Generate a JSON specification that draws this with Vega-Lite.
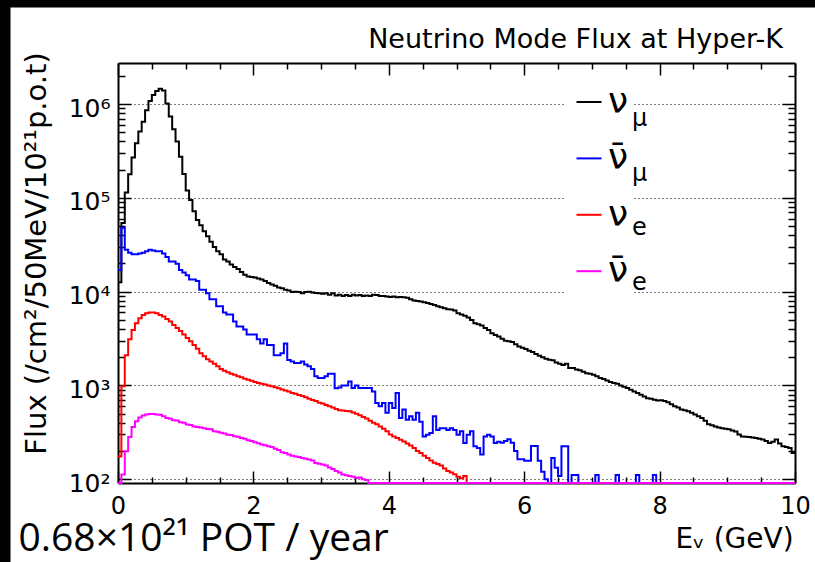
{
"$schema": "https://vega.github.io/schema/vega-lite/v6.json",
"width": 677, "height": 420,
"autosize": {"type": "none"},
"padding": {"left": 118, "top": 63, "right": 20, "bottom": 79},
"background": "white",
"config": {
  "view": {"stroke": null},
  "axis": {"labelFont": "DejaVu Sans", "titleFont": "DejaVu Sans", "labelColor": "black", "titleColor": "black", "tickColor": "black", "domainColor": "black", "titleFontWeight": "normal", "tickWidth": 1.5, "domainWidth": 2},
  "legend": {"labelFont": "DejaVu Sans", "labelColor": "black"}
},
"data": {"values": [
{"E":0,"a":12600,"b":17000,"c":175,"d":0},
{"E":0.05,"a":54000,"b":48000,"c":980,"d":112},
{"E":0.1,"a":114000,"b":28000,"c":2100,"d":199},
{"E":0.15,"a":179000,"b":26000,"c":3100,"d":282},
{"E":0.2,"a":270000,"b":25000,"c":3900,"d":360},
{"E":0.25,"a":384000,"b":25000,"c":4600,"d":415},
{"E":0.3,"a":510000,"b":25500,"c":5200,"d":455},
{"E":0.35,"a":650000,"b":26000,"c":5650,"d":478},
{"E":0.4,"a":860000,"b":27000,"c":5900,"d":490},
{"E":0.45,"a":1080000,"b":28000,"c":6000,"d":497},
{"E":0.5,"a":1250000,"b":27500,"c":6000,"d":497},
{"E":0.55,"a":1380000,"b":27000,"c":5900,"d":490},
{"E":0.6,"a":1460000,"b":27000,"c":5650,"d":488},
{"E":0.65,"a":1400000,"b":25500,"c":5450,"d":470},
{"E":0.7,"a":1020000,"b":23500,"c":5100,"d":450},
{"E":0.75,"a":740000,"b":21000,"c":4800,"d":440},
{"E":0.8,"a":540000,"b":21000,"c":4400,"d":425},
{"E":0.85,"a":400000,"b":19800,"c":4100,"d":422},
{"E":0.9,"a":275000,"b":17000,"c":3800,"d":405},
{"E":0.95,"a":180000,"b":16000,"c":3500,"d":400},
{"E":1.0,"a":120000,"b":15000,"c":3200,"d":382},
{"E":1.05,"a":95000,"b":13500,"c":2950,"d":378},
{"E":1.1,"a":72000,"b":13500,"c":2700,"d":365},
{"E":1.15,"a":58000,"b":13000,"c":2460,"d":360},
{"E":1.2,"a":51000,"b":10500,"c":2200,"d":355},
{"E":1.25,"a":44000,"b":10500,"c":2050,"d":350},
{"E":1.3,"a":39000,"b":9600,"c":1900,"d":343},
{"E":1.35,"a":34000,"b":8300,"c":1800,"d":340},
{"E":1.4,"a":30000,"b":8300,"c":1700,"d":325},
{"E":1.45,"a":27000,"b":7000,"c":1600,"d":320},
{"E":1.5,"a":25000,"b":7000,"c":1500,"d":312},
{"E":1.55,"a":22000,"b":6000,"c":1430,"d":307},
{"E":1.6,"a":21000,"b":5700,"c":1380,"d":298},
{"E":1.65,"a":19500,"b":5700,"c":1330,"d":295},
{"E":1.7,"a":18300,"b":4800,"c":1300,"d":287},
{"E":1.75,"a":17400,"b":4250,"c":1250,"d":283},
{"E":1.8,"a":16200,"b":4250,"c":1220,"d":275},
{"E":1.85,"a":15200,"b":3950,"c":1180,"d":270},
{"E":1.9,"a":14500,"b":3500,"c":1150,"d":260},
{"E":1.95,"a":14300,"b":3500,"c":1120,"d":256},
{"E":2.0,"a":14200,"b":3500,"c":1090,"d":248},
{"E":2.05,"a":13800,"b":3100,"c":1060,"d":242},
{"E":2.1,"a":13500,"b":2800,"c":1040,"d":234},
{"E":2.15,"a":13000,"b":3100,"c":1020,"d":230},
{"E":2.2,"a":12400,"b":2700,"c":1000,"d":225},
{"E":2.25,"a":11900,"b":2700,"c":980,"d":220},
{"E":2.3,"a":11600,"b":2100,"c":955,"d":211},
{"E":2.35,"a":11100,"b":2100,"c":935,"d":205},
{"E":2.4,"a":10900,"b":2200,"c":905,"d":194},
{"E":2.45,"a":10500,"b":2800,"c":880,"d":190},
{"E":2.5,"a":10300,"b":1870,"c":860,"d":183},
{"E":2.55,"a":9900,"b":1800,"c":830,"d":178},
{"E":2.6,"a":10000,"b":1730,"c":815,"d":175},
{"E":2.65,"a":9900,"b":1730,"c":790,"d":172},
{"E":2.7,"a":9600,"b":1800,"c":770,"d":168},
{"E":2.75,"a":9900,"b":1670,"c":750,"d":165},
{"E":2.8,"a":10000,"b":1600,"c":720,"d":162},
{"E":2.85,"a":9800,"b":1500,"c":700,"d":158},
{"E":2.9,"a":9700,"b":1250,"c":680,"d":149},
{"E":2.95,"a":9600,"b":1200,"c":655,"d":146},
{"E":3.0,"a":9500,"b":1200,"c":640,"d":143},
{"E":3.05,"a":9600,"b":1250,"c":620,"d":140},
{"E":3.1,"a":9300,"b":1330,"c":600,"d":133},
{"E":3.15,"a":9600,"b":1330,"c":580,"d":128},
{"E":3.2,"a":9100,"b":930,"c":560,"d":122},
{"E":3.25,"a":9300,"b":950,"c":545,"d":118},
{"E":3.3,"a":9000,"b":1000,"c":540,"d":112},
{"E":3.35,"a":9200,"b":1000,"c":535,"d":110},
{"E":3.4,"a":9000,"b":1100,"c":530,"d":108},
{"E":3.45,"a":9300,"b":940,"c":515,"d":106},
{"E":3.5,"a":9100,"b":1000,"c":500,"d":103},
{"E":3.55,"a":9200,"b":940,"c":480,"d":104},
{"E":3.6,"a":9000,"b":940,"c":460,"d":100},
{"E":3.65,"a":9100,"b":940,"c":445,"d":98},
{"E":3.7,"a":9000,"b":940,"c":420,"d":0},
{"E":3.75,"a":9300,"b":860,"c":400,"d":0},
{"E":3.8,"a":9200,"b":650,"c":385,"d":0},
{"E":3.85,"a":9000,"b":600,"c":365,"d":0},
{"E":3.9,"a":9000,"b":650,"c":345,"d":0},
{"E":3.95,"a":8900,"b":510,"c":325,"d":0},
{"E":4.0,"a":8800,"b":650,"c":300,"d":0},
{"E":4.05,"a":8900,"b":575,"c":286,"d":0},
{"E":4.1,"a":8700,"b":830,"c":275,"d":0},
{"E":4.15,"a":8800,"b":450,"c":264,"d":0},
{"E":4.2,"a":8700,"b":555,"c":252,"d":0},
{"E":4.25,"a":8600,"b":430,"c":240,"d":0},
{"E":4.3,"a":8300,"b":470,"c":228,"d":0},
{"E":4.35,"a":8050,"b":430,"c":215,"d":0},
{"E":4.4,"a":7950,"b":510,"c":200,"d":0},
{"E":4.45,"a":7850,"b":410,"c":190,"d":0},
{"E":4.5,"a":7700,"b":286,"c":178,"d":0},
{"E":4.55,"a":7550,"b":297,"c":168,"d":0},
{"E":4.6,"a":7400,"b":310,"c":158,"d":0},
{"E":4.65,"a":7200,"b":470,"c":150,"d":0},
{"E":4.7,"a":7000,"b":335,"c":145,"d":0},
{"E":4.75,"a":6800,"b":350,"c":140,"d":0},
{"E":4.8,"a":6650,"b":350,"c":130,"d":0},
{"E":4.85,"a":6500,"b":335,"c":122,"d":0},
{"E":4.9,"a":6450,"b":350,"c":118,"d":0},
{"E":4.95,"a":6300,"b":335,"c":113,"d":0},
{"E":5.0,"a":5900,"b":297,"c":106,"d":0},
{"E":5.05,"a":5700,"b":325,"c":102,"d":0},
{"E":5.1,"a":5550,"b":243,"c":108,"d":0},
{"E":5.15,"a":5300,"b":297,"c":0,"d":0},
{"E":5.2,"a":5000,"b":325,"c":0,"d":0},
{"E":5.25,"a":4600,"b":224,"c":0,"d":0},
{"E":5.3,"a":4500,"b":215,"c":0,"d":0},
{"E":5.35,"a":4370,"b":183,"c":0,"d":0},
{"E":5.4,"a":4100,"b":286,"c":0,"d":0},
{"E":5.45,"a":3900,"b":297,"c":0,"d":0},
{"E":5.5,"a":3600,"b":286,"c":0,"d":0},
{"E":5.55,"a":3450,"b":243,"c":0,"d":0},
{"E":5.6,"a":3330,"b":250,"c":0,"d":0},
{"E":5.65,"a":3150,"b":245,"c":0,"d":0},
{"E":5.7,"a":3000,"b":255,"c":0,"d":0},
{"E":5.75,"a":2950,"b":266,"c":0,"d":0},
{"E":5.8,"a":2900,"b":245,"c":0,"d":0},
{"E":5.85,"a":2750,"b":200,"c":0,"d":0},
{"E":5.9,"a":2600,"b":163,"c":0,"d":0},
{"E":5.95,"a":2520,"b":163,"c":0,"d":0},
{"E":6.0,"a":2440,"b":157,"c":0,"d":0},
{"E":6.05,"a":2350,"b":157,"c":0,"d":0},
{"E":6.1,"a":2270,"b":226,"c":0,"d":0},
{"E":6.15,"a":2170,"b":226,"c":0,"d":0},
{"E":6.2,"a":2070,"b":157,"c":0,"d":0},
{"E":6.25,"a":2000,"b":120,"c":0,"d":0},
{"E":6.3,"a":1920,"b":100,"c":0,"d":0},
{"E":6.35,"a":1880,"b":0,"c":0,"d":0},
{"E":6.4,"a":1850,"b":168,"c":0,"d":0},
{"E":6.45,"a":1760,"b":132,"c":0,"d":0},
{"E":6.5,"a":1700,"b":108,"c":0,"d":0},
{"E":6.55,"a":1650,"b":224,"c":0,"d":0},
{"E":6.6,"a":1700,"b":224,"c":0,"d":0},
{"E":6.65,"a":1530,"b":0,"c":0,"d":0},
{"E":6.7,"a":1530,"b":111,"c":0,"d":0},
{"E":6.75,"a":1480,"b":111,"c":0,"d":0},
{"E":6.8,"a":1450,"b":0,"c":0,"d":0},
{"E":6.85,"a":1400,"b":0,"c":0,"d":0},
{"E":6.9,"a":1350,"b":0,"c":0,"d":0},
{"E":6.95,"a":1330,"b":0,"c":0,"d":0},
{"E":7.0,"a":1300,"b":0,"c":0,"d":0},
{"E":7.05,"a":1250,"b":111,"c":0,"d":0},
{"E":7.1,"a":1200,"b":0,"c":0,"d":0},
{"E":7.15,"a":1170,"b":0,"c":0,"d":0},
{"E":7.2,"a":1130,"b":0,"c":0,"d":0},
{"E":7.25,"a":1090,"b":0,"c":0,"d":0},
{"E":7.3,"a":1060,"b":0,"c":0,"d":0},
{"E":7.35,"a":1040,"b":111,"c":0,"d":0},
{"E":7.4,"a":1000,"b":0,"c":0,"d":0},
{"E":7.45,"a":970,"b":0,"c":0,"d":0},
{"E":7.5,"a":940,"b":0,"c":0,"d":0},
{"E":7.55,"a":900,"b":0,"c":0,"d":0},
{"E":7.6,"a":860,"b":0,"c":0,"d":0},
{"E":7.65,"a":830,"b":111,"c":0,"d":0},
{"E":7.7,"a":795,"b":0,"c":0,"d":0},
{"E":7.75,"a":760,"b":0,"c":0,"d":0},
{"E":7.8,"a":730,"b":0,"c":0,"d":0},
{"E":7.85,"a":720,"b":0,"c":0,"d":0},
{"E":7.9,"a":705,"b":111,"c":0,"d":0},
{"E":7.95,"a":690,"b":0,"c":0,"d":0},
{"E":8.0,"a":695,"b":0,"c":0,"d":0},
{"E":8.05,"a":680,"b":0,"c":0,"d":0},
{"E":8.1,"a":663,"b":0,"c":0,"d":0},
{"E":8.15,"a":630,"b":0,"c":0,"d":0},
{"E":8.2,"a":600,"b":0,"c":0,"d":0},
{"E":8.25,"a":580,"b":0,"c":0,"d":0},
{"E":8.3,"a":555,"b":0,"c":0,"d":0},
{"E":8.35,"a":545,"b":0,"c":0,"d":0},
{"E":8.4,"a":530,"b":0,"c":0,"d":0},
{"E":8.45,"a":510,"b":0,"c":0,"d":0},
{"E":8.5,"a":490,"b":0,"c":0,"d":0},
{"E":8.55,"a":470,"b":0,"c":0,"d":0},
{"E":8.6,"a":450,"b":0,"c":0,"d":0},
{"E":8.65,"a":420,"b":0,"c":0,"d":0},
{"E":8.7,"a":385,"b":0,"c":0,"d":0},
{"E":8.75,"a":375,"b":0,"c":0,"d":0},
{"E":8.8,"a":365,"b":0,"c":0,"d":0},
{"E":8.85,"a":355,"b":0,"c":0,"d":0},
{"E":8.9,"a":350,"b":0,"c":0,"d":0},
{"E":8.95,"a":345,"b":0,"c":0,"d":0},
{"E":9.0,"a":340,"b":0,"c":0,"d":0},
{"E":9.05,"a":330,"b":0,"c":0,"d":0},
{"E":9.1,"a":323,"b":0,"c":0,"d":0},
{"E":9.15,"a":300,"b":0,"c":0,"d":0},
{"E":9.2,"a":286,"b":0,"c":0,"d":0},
{"E":9.25,"a":284,"b":0,"c":0,"d":0},
{"E":9.3,"a":282,"b":0,"c":0,"d":0},
{"E":9.35,"a":278,"b":0,"c":0,"d":0},
{"E":9.4,"a":275,"b":0,"c":0,"d":0},
{"E":9.45,"a":270,"b":0,"c":0,"d":0},
{"E":9.5,"a":265,"b":0,"c":0,"d":0},
{"E":9.55,"a":255,"b":0,"c":0,"d":0},
{"E":9.6,"a":243,"b":0,"c":0,"d":0},
{"E":9.65,"a":250,"b":0,"c":0,"d":0},
{"E":9.7,"a":265,"b":0,"c":0,"d":0},
{"E":9.75,"a":240,"b":0,"c":0,"d":0},
{"E":9.8,"a":224,"b":0,"c":0,"d":0},
{"E":9.85,"a":220,"b":0,"c":0,"d":0},
{"E":9.9,"a":215,"b":0,"c":0,"d":0},
{"E":9.95,"a":190,"b":0,"c":0,"d":0},
{"E":10.0,"a":190,"b":0,"c":0,"d":0}
]},
"transform": [
  {"fold": ["a", "b", "c", "d"], "as": ["s", "v"]},
  {"calculate": "max(datum.v, 91)", "as": "f"},
  {"calculate": "datum.s", "as": "s2"}
],
"resolve": {"axis": {"x": "independent", "y": "independent"}},
"layer": [
  {
    "mark": {"type": "line", "interpolate": "step-after", "strokeWidth": 2},
    "encoding": {
      "x": {"field": "E", "type": "quantitative",
        "scale": {"domain": [0, 10], "nice": false, "zero": false},
        "axis": {"orient": "bottom",
          "values": [0,0.5,1,1.5,2,2.5,3,3.5,4,4.5,5,5.5,6,6.5,7,7.5,8,8.5,9,9.5,10],
          "labelExpr": "datum.value % 2 == 0 ? format(datum.value, 'd') : ''",
          "labelFlush": false, "labelOverlap": false, "labelFontSize": 24,
          "labelPadding": 23, "labelBaseline": "top",
          "tickSize": {"condition": {"test": "datum.value % 2 == 0", "value": -12}, "value": -6},
          "grid": false,
          "title": "E\u1d65 (GeV)", "titleFontSize": 28, "titleX": 616, "titleY": 64,
          "titleAlign": "center", "titleBaseline": "alphabetic"}},
      "y": {"field": "f", "type": "quantitative",
        "scale": {"type": "log", "domain": [91, 2750000], "nice": false},
        "axis": {"orient": "left",
          "values": [100,200,300,400,500,600,700,800,900,1000,2000,3000,4000,5000,6000,7000,8000,9000,10000,20000,30000,40000,50000,60000,70000,80000,90000,100000,200000,300000,400000,500000,600000,700000,800000,900000,1000000,2000000],
          "labelExpr": "abs(log(datum.value)/LN10 - round(log(datum.value)/LN10)) < 0.001 ? '10' + ['\u2070','\u00b9','\u00b2','\u00b3','\u2074','\u2075','\u2076','\u2077'][round(log(datum.value)/LN10)] : ''",
          "labelOverlap": false, "labelFontSize": 25, "labelPadding": 21, "labelOffset": 4,
          "tickSize": {"condition": {"test": "abs(log(datum.value)/LN10 - round(log(datum.value)/LN10)) < 0.001", "value": -13}, "value": -7},
          "grid": true, "gridColor": "black", "gridDash": [1, 3], "gridWidth": 1,
          "gridOpacity": {"condition": {"test": "abs(log(datum.value)/LN10 - round(log(datum.value)/LN10)) < 0.001", "value": 1}, "value": 0},
          "title": "Flux (/cm\u00b2/50MeV/10\u00b2\u00b9p.o.t)", "titleFontSize": 29,
          "titleX": -73, "titleY": 190, "titleAngle": -90, "titleAlign": "center", "titleBaseline": "alphabetic"}},
      "color": {"field": "s", "type": "nominal",
        "scale": {"domain": ["a", "b", "c", "d"], "range": ["#000000", "#0000ff", "#ff0000", "#ff00ff"]},
        "legend": {"orient": "none", "legendX": 448, "legendY": 16, "padding": 5, "fillColor": "white",
          "title": null, "symbolType": "stroke", "symbolSize": 625, "symbolStrokeWidth": 2,
          "labelFontSize": 36, "labelOffset": 1, "rowPadding": 20.4, "labelLimit": 400,
          "labelExpr": "(datum.label == 'b' || datum.label == 'd') ? '\u03bd\u0304\u2003\u2003\u2005' : '\u03bd\u2003\u2003\u2005'"}},
      "strokeDash": {"field": "s2", "type": "nominal",
        "scale": {"range": [[1, 0], [1, 0], [1, 0], [1, 0]]},
        "legend": {"orient": "none", "legendX": 490, "legendY": 44, "padding": 0,
          "title": null, "symbolSize": 1, "symbolOpacity": 0,
          "labelFontSize": 24, "labelOffset": 0, "rowPadding": 30.5,
          "labelExpr": "(datum.label == 'a' || datum.label == 'b') ? '\u03bc' : 'e'"}}
    }
  },
  {
    "transform": [{"filter": "false"}],
    "mark": {"type": "point", "opacity": 0},
    "encoding": {
      "x": {"field": "E", "type": "quantitative",
        "scale": {"domain": [0, 10], "nice": false, "zero": false},
        "axis": {"orient": "top",
          "values": [0,0.5,1,1.5,2,2.5,3,3.5,4,4.5,5,5.5,6,6.5,7,7.5,8,8.5,9,9.5,10],
          "labels": false, "grid": false,
          "tickSize": {"condition": {"test": "datum.value % 2 == 0", "value": -12}, "value": -6},
          "title": "Neutrino Mode Flux at Hyper-K", "titleFontSize": 27,
          "titleX": 457, "titleY": -16, "titleAlign": "center", "titleBaseline": "alphabetic"}},
      "y": {"field": "f", "type": "quantitative",
        "scale": {"type": "log", "domain": [91, 2750000], "nice": false},
        "axis": {"orient": "right",
          "values": [100,200,300,400,500,600,700,800,900,1000,2000,3000,4000,5000,6000,7000,8000,9000,10000,20000,30000,40000,50000,60000,70000,80000,90000,100000,200000,300000,400000,500000,600000,700000,800000,900000,1000000,2000000],
          "labels": false, "grid": false, "title": null,
          "tickSize": {"condition": {"test": "abs(log(datum.value)/LN10 - round(log(datum.value)/LN10)) < 0.001", "value": -13}, "value": -7}}}
    }
  },
  {
    "transform": [{"filter": "false"}],
    "mark": {"type": "point", "opacity": 0},
    "encoding": {
      "x": {"field": "E", "type": "quantitative",
        "scale": {"domain": [0, 10], "nice": false, "zero": false},
        "axis": {"orient": "top", "offset": 176, "domainWidth": 240, "domainCap": "square",
          "ticks": false, "labels": false, "grid": false,
          "title": "0.68\u00d710\u00b2\u00b9 POT / year", "titleFont": "Open Sans", "titleFontSize": 39,
          "titleX": -100, "titleY": 663, "titleAlign": "left", "titleBaseline": "alphabetic"}},
      "y": {"field": "f", "type": "quantitative",
        "scale": {"type": "log", "domain": [91, 2750000], "nice": false},
        "axis": {"orient": "left", "offset": 188, "domainWidth": 160, "domainCap": "square",
          "ticks": false, "labels": false, "grid": false, "title": null}}
    }
  }
]
}
